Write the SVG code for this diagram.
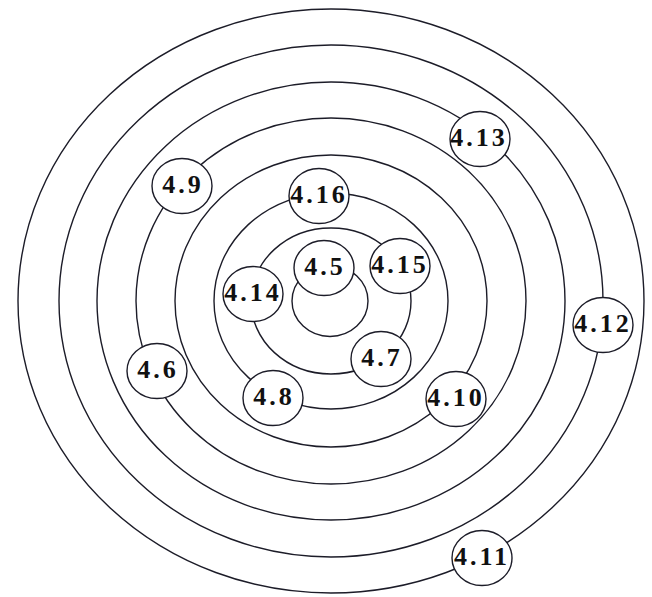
<svg xmlns="http://www.w3.org/2000/svg" width="652" height="597" viewBox="0 0 652 597">
<style>
.ring{fill:none;stroke:#1c1c28;stroke-width:1.4}
.node ellipse{fill:#fff;stroke:#1c1c28;stroke-width:1.4}
.node text{font-family:"Liberation Serif","Times New Roman",serif;font-weight:bold;font-size:26px;letter-spacing:3px;fill:#111;text-anchor:middle}
</style>
<rect width="652" height="597" fill="#fff"/>
<g id="connectors">
<ellipse class="ring" cx="330" cy="301" rx="38" ry="35.5"/>
<ellipse class="ring" cx="331" cy="301" rx="80" ry="73"/>
<ellipse class="ring" cx="331" cy="301" rx="117" ry="108"/>
<ellipse class="ring" cx="331" cy="301" rx="156" ry="146"/>
<ellipse class="ring" cx="331" cy="301" rx="195" ry="183"/>
<ellipse class="ring" cx="331" cy="301" rx="234" ry="219"/>
<ellipse class="ring" cx="331" cy="301" rx="272" ry="256"/>
<ellipse class="ring" cx="331" cy="301" rx="313" ry="292"/>
</g>
<g id="n4_5" class="node"><ellipse cx="324" cy="268" rx="30" ry="27.5"/><text x="325" y="275">4.5</text></g>
<g id="n4_15" class="node"><ellipse cx="400" cy="266" rx="30" ry="27.5"/><text x="400" y="273">4.15</text></g>
<g id="n4_14" class="node"><ellipse cx="253" cy="294" rx="30" ry="27.5"/><text x="253" y="301">4.14</text></g>
<g id="n4_7" class="node"><ellipse cx="381" cy="359" rx="30" ry="27.5"/><text x="382" y="366">4.7</text></g>
<g id="n4_16" class="node"><ellipse cx="319" cy="196" rx="30" ry="27.5"/><text x="319" y="203">4.16</text></g>
<g id="n4_8" class="node"><ellipse cx="273" cy="398" rx="30" ry="27.5"/><text x="274" y="405">4.8</text></g>
<g id="n4_10" class="node"><ellipse cx="456" cy="399" rx="30" ry="27.5"/><text x="456" y="406">4.10</text></g>
<g id="n4_9" class="node"><ellipse cx="182" cy="186" rx="30" ry="27.5"/><text x="183" y="193">4.9</text></g>
<g id="n4_6" class="node"><ellipse cx="157" cy="371" rx="30" ry="27.5"/><text x="158" y="378">4.6</text></g>
<g id="n4_13" class="node"><ellipse cx="480" cy="139" rx="30" ry="27.5"/><text x="479" y="146">4.13</text></g>
<g id="n4_12" class="node"><ellipse cx="603" cy="325" rx="30" ry="27.5"/><text x="603" y="332">4.12</text></g>
<g id="n4_11" class="node"><ellipse cx="482" cy="558" rx="30" ry="27.5"/><text x="482" y="565">4.11</text></g>
</svg>
